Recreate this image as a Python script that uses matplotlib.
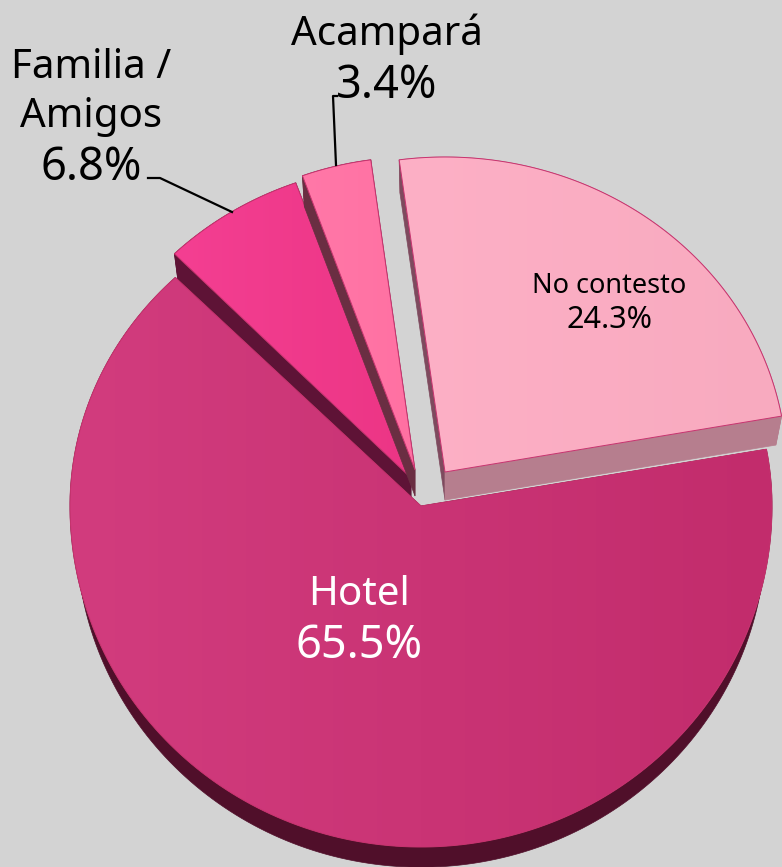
import numpy as np
import matplotlib
matplotlib.use("Agg")
import matplotlib.pyplot as plt
from matplotlib.colors import LinearSegmentedColormap
from matplotlib.patches import Polygon

names = ["No contesto", "Hotel", "Familia /\nAmigos", "Acampará"]
values = [24.3, 65.5, 6.8, 3.4]

# wedge look: centre, radii (upper, lower half), depth, colours
centers = [(445, 472), (421, 506), (411, 478), (415, 470)]
radii = [(342, 315, 315), (351, 320, 341), (338, 314, 314), (330, 313, 313)]
depths = [28, 26, 27, 26]
left_cols = ["#fdb0c6", "#d23c7e", "#f43f92", "#ff78a8"]
right_cols = ["#f8aabf", "#c22c6c", "#ec3585", "#ff70a2"]
side_cols = ["#b67e8e", "#500f2a", "#5e1336", "#6a2e42"]
start_angle = 97.7
bg = "#d3d3d3"

fig = plt.figure(figsize=(7.82, 8.67), dpi=100, facecolor=bg)
ax = fig.add_axes([0, 0, 1, 1])
ax.set_axis_off()


def ell(i, t, scale=1.0, dy=0):
    cx, cy = centers[i]
    rx, up, down = radii[i]
    t = np.radians(t)
    s = np.sin(t)
    ry = np.where(s > 0, up, down)
    return cx + scale * rx * np.cos(t), cy + dy - scale * ry * s


def draw_wedge(i, t0, t1):
    ts = np.linspace(t0, t1, 200)
    cx, cy = centers[i]
    d = depths[i]
    xt, yt = ell(i, ts)
    xb, yb = ell(i, ts, 0.983, d)

    # sides first, the top face covers what should not show
    band = np.r_[np.c_[xt, yt], np.c_[xb, yb][::-1]]
    ax.add_patch(Polygon(band, fc=side_cols[i], ec=side_cols[i], lw=0.5))
    for k in (0, -1):
        quad = [(cx, cy), (xt[k], yt[k]), (xb[k], yb[k]), (cx, cy + d)]
        col = side_cols[i]
        if i == 0 and k == 0:
            col = "#7e4a5e"
        ax.add_patch(Polygon(quad, fc=col, ec=col, lw=0.5))

    top = np.r_[[(cx, cy)], np.c_[xt, yt]]
    cmap = LinearSegmentedColormap.from_list("w", [left_cols[i], right_cols[i]])
    im = ax.imshow(np.linspace(0, 1, 256).reshape(1, -1), cmap=cmap, aspect="auto",
                   extent=(top[:, 0].min(), top[:, 0].max(), top[:, 1].max(), top[:, 1].min()))
    ax.add_patch(Polygon(top, fc="none", ec="#c8336f", lw=0.7))
    im.set_clip_path(Polygon(top, transform=ax.transData))
    return im


angles = start_angle - np.r_[0, np.cumsum(values)] * 3.6
# painter's order: the small slices lie under the big one
zbase = 1
for i in [2, 3, 1, 0]:
    n0 = len(ax.patches)
    im = draw_wedge(i, angles[i], angles[i + 1])
    for p in ax.patches[n0:]:
        p.set_zorder(zbase)
    ax.patches[-1].set_zorder(zbase + 0.2)
    im.set_zorder(zbase + 0.1)
    zbase += 1

# leader lines
ax.plot([148, 160, 232], [178, 178, 212], color="black", lw=1.6, zorder=10)
ax.plot([337, 333, 336], [96, 96, 165], color="black", lw=1.6, zorder=10)

font = "Noto Sans"


def label(x, y_name, y_val, i, size, size_val, color):
    ax.text(x, y_name, names[i], ha="center", va="baseline", fontsize=size, family=font,
            color=color, linespacing=1.3, zorder=11)
    ax.text(x, y_val, f"{values[i]}%", ha="center", va="baseline", fontsize=size_val, family=font,
            color=color, zorder=11)


label(609, 293, 328, 0, 19.5, 22, "black")
label(359, 605, 658, 1, 29, 32.5, "white")
label(91, 127, 180, 2, 29, 32.5, "black")
label(387, 45, 98, 3, 29, 32.5, "black")

ax.set_xlim(0, 782)
ax.set_ylim(867, 0)
fig.savefig("out.png", dpi=100, facecolor=bg)
